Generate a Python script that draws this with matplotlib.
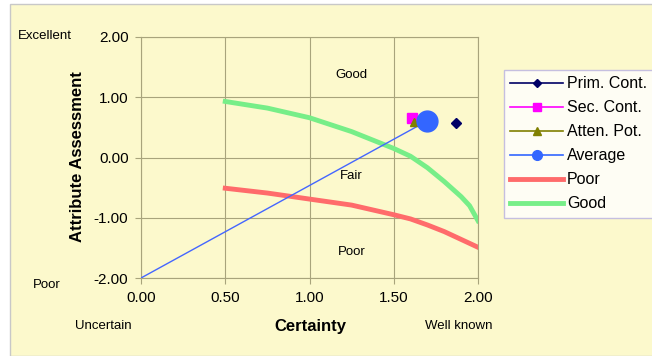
import matplotlib
matplotlib.use("Agg")
import matplotlib.pyplot as plt
from matplotlib.patches import Rectangle

plt.rcParams['font.family'] = ['Liberation Sans', 'DejaVu Sans']

# data
prim_x, prim_y = [1.87], [0.58]
sec_x, sec_y = [1.61], [0.65]
atten_x, atten_y = [1.62], [0.59]
avg_x, avg_y = [0.0, 1.70], [-2.0, 0.61]

poor_x = [0.50, 0.75, 1.00, 1.25, 1.50, 1.60, 1.70, 1.80, 1.90, 2.00]
poor_y = [-0.51, -0.59, -0.69, -0.79, -0.95, -1.02, -1.12, -1.23, -1.36, -1.49]
good_x = [0.50, 0.75, 1.00, 1.25, 1.50, 1.60, 1.70, 1.80, 1.90, 1.95, 2.00]
good_y = [0.93, 0.82, 0.66, 0.43, 0.15, 0.02, -0.17, -0.40, -0.65, -0.80, -1.05]

x_ticks = [0.0, 0.5, 1.0, 1.5, 2.0]
y_ticks = [-2.0, -1.0, 0.0, 1.0, 2.0]

zone_labels = ["Good", "Fair", "Poor"]
zone_y = [1.37, -0.31, -1.57]

bg = "#FCF9CC"
grid_c = "#A8A47C"

fig = plt.figure(figsize=(6.52, 3.56), dpi=100, facecolor="white")
fig.patches.append(Rectangle((10 / 652, 0), 1, 1 - 4 / 356, transform=fig.transFigure,
                             facecolor=bg, edgecolor="#C8C8C8", lw=1, zorder=-10))

ax = fig.add_axes([141 / 652, 1 - 278 / 356, 337 / 652, 241 / 356])
ax.set_facecolor(bg)

ax.plot(poor_x, poor_y, color="#FF6B6B", lw=3.5, label="Poor", zorder=2)
ax.plot(good_x, good_y, color="#77EE88", lw=3.5, label="Good", zorder=2)
ax.plot(avg_x, avg_y, color="#4466FF", lw=1.0, zorder=3)
ax.plot(prim_x, prim_y, color="#000066", marker="D", ms=5, ls="none", zorder=4)
ax.plot(sec_x, sec_y, color="#FF00FF", marker="s", ms=7, ls="none", zorder=4)
ax.plot(atten_x, atten_y, color="#808000", marker="^", ms=6, ls="none", zorder=4)
ax.plot(avg_x[-1:], avg_y[-1:], color="#3366FF", marker="o", ms=15, ls="none", zorder=5)

# legend handles (line + small marker)
h = []
h += ax.plot([], [], color="#000066", marker="D", ms=4, lw=1.2, label="Prim. Cont.")
h += ax.plot([], [], color="#FF00FF", marker="s", ms=6, lw=1.2, label="Sec. Cont.")
h += ax.plot([], [], color="#808000", marker="^", ms=6, lw=1.2, label="Atten. Pot.")
h += ax.plot([], [], color="#3366FF", marker="o", ms=7, lw=1.2, label="Average")
h += ax.plot([], [], color="#FF6B6B", lw=3.5, label="Poor")
h += ax.plot([], [], color="#77EE88", lw=3.5, label="Good")

ax.set_xlim(0, 2)
ax.set_ylim(-2, 2)
ax.set_xticks(x_ticks)
ax.set_yticks(y_ticks)
ax.set_xticklabels([f"{v:.2f}" for v in x_ticks], fontsize=11)
ax.set_yticklabels([f"{v:.2f}" for v in y_ticks], fontsize=11)
ax.tick_params(length=4, color=grid_c, pad=5)
ax.grid(True, color=grid_c, lw=0.8)
ax.set_axisbelow(True)
for s in ax.spines.values():
    s.set_color(grid_c)
    s.set_linewidth(0.8)

for t, yv in zip(zone_labels, zone_y):
    ax.text(1.25, yv, t, ha="center", va="center", fontsize=9.5)

fig.text(310 / 652, 1 - 326 / 356, "Certainty", ha="center", va="center",
         fontsize=12, fontweight="bold")
fig.text(78 / 652, 1 - 157 / 356, "Attribute Assessment", ha="center", va="center",
         rotation=90, fontsize=12, fontweight="bold")
fig.text(45 / 652, 1 - 36 / 356, "Excellent", ha="center", va="center", fontsize=9.5)
fig.text(47 / 652, 1 - 285 / 356, "Poor", ha="center", va="center", fontsize=9.5)
fig.text(103 / 652, 1 - 326 / 356, "Uncertain", ha="center", va="center", fontsize=9.5)
fig.text(459 / 652, 1 - 326 / 356, "Well known", ha="center", va="center", fontsize=9.5)

leg = fig.legend(handles=h, loc="upper left", bbox_to_anchor=(504 / 652, 1 - 70 / 356),
                 fontsize=11.5, frameon=True, fancybox=False, handlelength=3.3,
                 borderpad=0.4, labelspacing=0.56, handletextpad=0.25, borderaxespad=0)
leg.get_frame().set_edgecolor("#B8B0E0")
leg.get_frame().set_facecolor("white")
leg.get_frame().set_linewidth(1)

fig.savefig("out.png", dpi=100, facecolor="white")
